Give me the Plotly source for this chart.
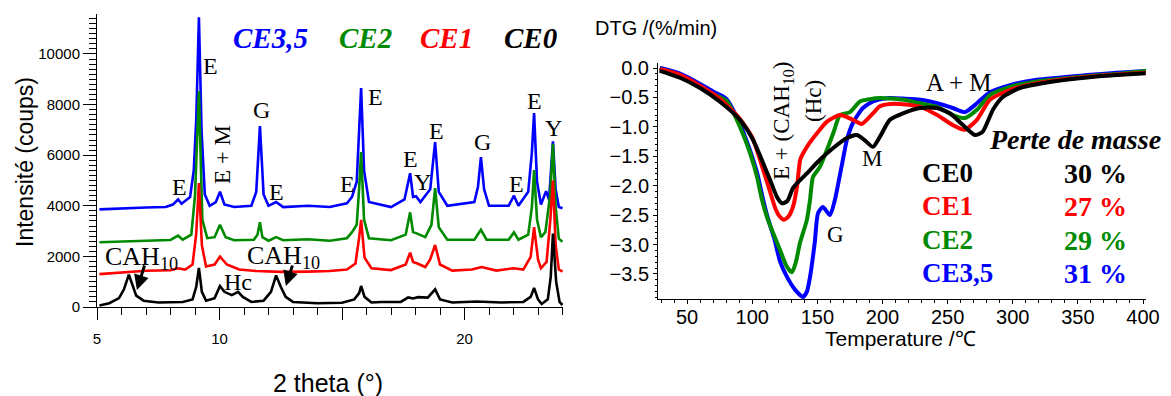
import plotly.graph_objects as go

W, H = 1171, 396

# ---------------- XRD (left) : 2theta (deg) / intensity (counts) ----------------
ce0_2theta = [5.1, 5.5, 5.9, 6.1, 6.3, 6.45, 6.6, 6.9, 7.5, 8.5, 8.9, 9.05, 9.16, 9.28, 9.45, 9.8,
              10.02, 10.2, 10.5, 10.76, 10.95, 11.3, 11.8, 12.1, 12.31, 12.5, 12.7, 13.0, 14.0,
              15.0, 15.5, 15.7, 15.78, 15.92, 16.2, 16.6, 17.4, 17.7, 17.9, 18.1, 18.5, 18.8,
              19.0, 19.5, 20.5, 21.5, 22.4, 22.7, 22.84, 23.0, 23.15, 23.4, 23.52, 23.61, 23.74,
              23.88, 24.0]
ce0_counts = [60, 150, 350, 700, 1280, 900, 450, 250, 180, 200, 300, 800, 1540, 600, 250, 350,
              830, 600, 470, 600, 400, 200, 250, 600, 1250, 800, 400, 200, 150,
              170, 300, 550, 830, 400, 180, 200, 200, 380, 340, 390, 370, 700,
              300, 180, 220, 180, 200, 400, 750, 300, 120, 300, 1200, 2900, 1000,
              200, 80]

ce1_2theta = [5.1, 6.0, 7.0, 8.0, 8.3, 8.6, 8.9, 9.05, 9.16, 9.28, 9.45, 9.8, 10.02, 10.3, 10.8,
              11.5, 12.5, 13.6, 14.5, 15.2, 15.41, 15.55, 15.7, 15.78, 15.92, 16.2, 17.0, 17.6,
              17.78, 17.9, 18.05, 18.4, 18.6, 18.8, 19.0, 19.5, 20.3, 20.7, 21.3, 22.0, 22.4,
              22.7, 22.84, 23.0, 23.12, 23.35, 23.5, 23.61, 23.72, 23.85, 24.0]
ce1_counts = [1300, 1370, 1430, 1450, 1530, 1480, 1680, 2900, 4900, 2450, 1600, 1680, 1990, 1680, 1480,
              1420, 1390, 1400, 1420, 1480, 1620, 1720, 2750, 3440, 1950, 1530, 1460, 1680,
              2150, 1780, 1730, 1580, 1880, 2450, 1680, 1440, 1480, 1580, 1440, 1530, 1480,
              1980, 3160, 1880, 1530, 1780, 3400, 5000, 2450, 1480, 1400]

ce2_2theta = [5.1, 6.0, 7.0, 8.0, 8.31, 8.5, 8.85, 9.0, 9.16, 9.3, 9.5, 9.8, 10.02, 10.25, 10.6,
              11.4, 11.55, 11.65, 11.75, 12.0, 12.31, 12.6, 13.61, 14.5, 15.2, 15.41, 15.6, 15.7,
              15.78, 15.9, 16.1, 17.0, 17.6, 17.78, 17.9, 18.05, 18.4, 18.65, 18.8, 18.95, 19.3,
              20.4, 20.67, 20.9, 21.8, 22.02, 22.2, 22.6, 22.75, 22.84, 22.96, 23.12, 23.3, 23.5,
              23.61, 23.72, 23.85, 24.0]
ce2_counts = [2560, 2600, 2620, 2650, 2820, 2660, 2860, 4400, 8530, 3450, 2720, 2760, 3250, 2760, 2640,
              2660, 2860, 3350, 2760, 2620, 2760, 2640, 2680, 2620, 2720, 2960, 3250, 4700,
              6120, 3450, 2720, 2640, 2860, 3740, 2960, 2910, 2760, 3250, 4700, 3150, 2660,
              2660, 3050, 2660, 2660, 2950, 2660, 2860, 3950, 5410, 3450, 2760, 2960, 4450,
              6450, 3950, 2700, 2580]

ce3_2theta = [5.1, 6.0, 7.0, 7.8, 8.1, 8.31, 8.45, 8.8, 8.95, 9.05, 9.16, 9.27, 9.4, 9.6, 9.85,
              10.02, 10.2, 10.6, 11.3, 11.5, 11.65, 11.8, 12.0, 12.31, 12.6, 13.61, 14.5, 15.2,
              15.41, 15.6, 15.7, 15.78, 15.9, 16.1, 17.0, 17.55, 17.78, 17.9, 18.02, 18.2, 18.6,
              18.8, 18.95, 19.3, 20.4, 20.55, 20.67, 20.8, 21.0, 21.8, 22.02, 22.2, 22.6, 22.75,
              22.84, 22.96, 23.12, 23.33, 23.45, 23.53, 23.61, 23.72, 23.85, 24.0]
ce3_counts = [3860, 3900, 3930, 3950, 4050, 4250, 4080, 4350, 5400, 7400, 11450, 6900, 4450, 4000, 4150,
              4560, 4050, 3950, 4000, 4550, 7150, 4450, 4000, 4150, 3950, 4000, 3950, 4100,
              4350, 4950, 6900, 8650, 5400, 4150, 3950, 4250, 5290, 4350, 4380, 4150, 4650,
              6520, 4550, 4000, 4150, 4750, 5920, 4650, 4000, 4000, 4400, 4000, 4550, 6100,
              7660, 4950, 4050, 4580, 4250, 5400, 6550, 4650, 3950, 3900]

# ---------------- DTG (right) : temperature (C) / DTG (%/min) ----------------
dtg0_T = [29, 35, 45, 60, 75, 90.6, 100.6, 108.3, 113.7, 119, 123, 127, 131.3, 137, 142, 152, 162.2,
          172.7, 180.4, 186, 192.7, 198, 205.7, 215.7, 228.8, 241.8, 251.8, 261.8, 271, 277, 284.8,
          292.5, 305.5, 331, 357, 380, 402]
dtg0 = [-0.05, -0.09, -0.17, -0.34, -0.57, -0.88, -1.22, -1.61, -1.9, -2.19, -2.3, -2.26, -2.04, -1.9,
        -1.79, -1.56, -1.36, -1.19, -1.14, -1.22, -1.34, -1.17, -0.88, -0.77, -0.68, -0.68, -0.77,
        -0.97, -1.14, -1.08, -0.71, -0.49, -0.34, -0.23, -0.16, -0.12, -0.09]

dtg1_T = [29, 35, 45, 60, 75, 90, 100, 108, 113, 118, 121, 124.4, 128, 131.3, 134.4, 137, 142, 149.7,
          157.4, 167.4, 177.4, 184, 192.7, 198, 206, 218, 229, 242, 254, 263, 272.5, 282.5, 298,
          318.6, 357, 380, 402]
dtg1 = [-0.02, -0.05, -0.12, -0.3, -0.52, -0.85, -1.18, -1.7, -2.05, -2.4, -2.52, -2.58, -2.52, -2.36,
        -2.02, -1.55, -1.34, -1.11, -0.91, -0.80, -0.88, -0.95, -0.77, -0.65, -0.61, -0.62, -0.66,
        -0.8, -0.97, -1.05, -0.88, -0.54, -0.37, -0.26, -0.15, -0.11, -0.08]

dtg2_T = [29, 35, 45, 60, 70, 80.4, 90.6, 98.3, 103.7, 107.5, 111.3, 116, 121.3, 126.7, 130.5, 133.5,
          136.7, 142, 144.4, 146.7, 152, 157.4, 162.2, 167.4, 175, 182.7, 190.4, 198, 206, 216, 229,
          242, 254, 263.3, 272.5, 282.5, 298, 318.6, 357, 380, 403]
dtg2 = [-0.02, -0.05, -0.13, -0.31, -0.44, -0.56, -1.0, -1.44, -1.85, -2.24, -2.53, -2.8, -3.09, -3.38,
        -3.47, -3.3, -2.97, -2.58, -2.24, -1.85, -1.68, -1.39, -1.11, -0.80, -0.75, -0.57, -0.53,
        -0.51, -0.52, -0.54, -0.6, -0.66, -0.8, -0.85, -0.71, -0.46, -0.32, -0.23, -0.14, -0.1, -0.05]

dtg3_T = [29, 35, 45, 60, 70, 80, 90, 98, 104, 108, 112, 117, 121.3, 126.7, 133, 139, 142, 144.4, 148,
          150.5, 154.3, 159.7, 163.5, 169.6, 172.7, 177.4, 185, 192.7, 198, 206, 216, 229, 242, 254,
          263.3, 272.5, 282.5, 298, 318.6, 357, 380, 403]
dtg3 = [0.0, -0.03, -0.1, -0.27, -0.4, -0.52, -0.92, -1.38, -1.8, -2.2, -2.55, -2.9, -3.28, -3.55,
        -3.77, -3.89, -3.8, -3.55, -2.97, -2.47, -2.36, -2.5, -2.24, -1.56, -1.22, -0.93, -0.68,
        -0.57, -0.53, -0.51, -0.52, -0.54, -0.6, -0.68, -0.75, -0.6, -0.41, -0.29, -0.2, -0.12,
        -0.08, -0.05]

series_names = ["CE3,5", "CE2", "CE1", "CE0"]
series_colors = ["#0000FF", "#008A00", "#FF0000", "#000000"]
mass_loss = ["31 %", "29 %", "27 %", "30 %"]

x_ticks_xrd = [5, 10, 15, 20]
x_ticktext_xrd = ["5", "10", "", "20"]

fig = go.Figure()

xrd = [(ce3_2theta, ce3_counts), (ce2_2theta, ce2_counts), (ce1_2theta, ce1_counts), (ce0_2theta, ce0_counts)]
for (xs, ys), name, col in zip(xrd, series_names, series_colors):
    fig.add_trace(go.Scatter(x=xs, y=ys, mode="lines", name=name, xaxis="x", yaxis="y",
                             line=dict(color=col, width=2.6), showlegend=False))

dtg = [(dtg3_T, dtg3), (dtg2_T, dtg2), (dtg1_T, dtg1), (dtg0_T, dtg0)]
for (xs, ys), name, col in zip(dtg, series_names, series_colors):
    fig.add_trace(go.Scatter(x=xs, y=ys, mode="lines", name=name, xaxis="x2", yaxis="y2",
                             line=dict(color=col, width=4, shape="spline", smoothing=0.6),
                             showlegend=False))

SANS = "Liberation Sans, Arial, sans-serif"
SERIF = "Liberation Serif, Times New Roman, serif"

fig.update_layout(
    width=W, height=H, margin=dict(l=0, r=0, t=0, b=0, autoexpand=False),
    paper_bgcolor="white", plot_bgcolor="white", showlegend=False,
    xaxis=dict(domain=[97 / W, 563 / W], range=[5, 24.02], tickmode="array", automargin=False,
               tickvals=x_ticks_xrd, ticktext=x_ticktext_xrd, ticks="outside", ticklen=12,
               tickwidth=1, tickcolor="black", showline=True, linecolor="black", linewidth=1,
               showgrid=False, zeroline=False, ticklabelstandoff=6,
               tickfont=dict(family=SANS, size=15, color="black"),
               minor=dict(tickmode="linear", tick0=5, dtick=1, ticks="outside", ticklen=7,
                          tickcolor="black", showgrid=False),
               anchor="y"),
    yaxis=dict(domain=[1 - 307 / H, 1 - 14 / H], range=[0, 11580], tickmode="linear", tick0=0,
               dtick=2000, tickformat="d", ticks="outside", ticklen=13, tickcolor="black",
               showline=True, automargin=False,
               linecolor="black", linewidth=1, showgrid=False, zeroline=False,
               tickfont=dict(family=SANS, size=15, color="black"),
               minor=dict(dtick=200, ticks="outside", ticklen=7, tickcolor="black", showgrid=False),
               anchor="x"),
    xaxis2=dict(domain=[658 / W, 1146 / W], range=[27.7, 402.3], tickmode="linear", tick0=50,
                dtick=50, ticks="outside", ticklen=4, tickcolor="black", showline=True,
                linecolor="black", linewidth=1, showgrid=False, zeroline=False, automargin=False,
                ticklabelstandoff=-4,
                tickfont=dict(family=SANS, size=20, color="black"),
                minor=dict(dtick=10, ticks="outside", ticklen=3, tickcolor="black", showgrid=False),
                anchor="y2"),
    yaxis2=dict(domain=[1 - 299 / H, 1 - 63 / H], range=[-3.925, 0.085], tickmode="linear",
                tick0=0, dtick=0.5, tickformat=".1f", ticks="outside", ticklen=4, tickcolor="black",
                showline=True, linecolor="black", linewidth=1, showgrid=False, zeroline=False,
                automargin=False,
                tickfont=dict(family=SANS, size=20, color="black"),
                minor=dict(dtick=0.1, ticks="outside", ticklen=2, tickcolor="black", showgrid=False),
                anchor="x2"),
)


def ann(text, px, py, size, family=SERIF, color="black", angle=0, xanchor="center", **kw):
    fig.add_annotation(text=text, x=px / W, y=1 - py / H, xref="paper", yref="paper",
                       showarrow=False, xanchor=xanchor, yanchor="middle", textangle=angle,
                       font=dict(family=family, size=size, color=color), **kw)


# axis titles
ann("Intensité (coups)", 25, 162, 23, family=SANS, angle=-90)
ann("2 theta (°)", 328, 383, 25, family=SANS)
ann("DTG /(%/min)", 593, 28, 20, family=SANS, xanchor="left")
ann("Temperature /℃", 900, 338, 21, family=SANS)

# XRD sample labels
for name, col, cx in zip(series_names, series_colors, [270, 365, 446, 530]):
    ann(f"<b><i>{name}</i></b>", cx, 38, 29, color=col)

# XRD peak labels
for t, px, py in [("E", 210, 66), ("G", 261, 110), ("E", 179, 187), ("E", 276, 192),
                  ("E", 347, 184), ("E", 375, 97), ("E", 411, 159), ("Y", 422, 182),
                  ("E", 436, 131), ("G", 482, 142), ("E", 516, 184), ("E", 534, 101),
                  ("Y", 553, 128)]:
    ann(t, px, py, 24)
ann("E + M", 222, 155, 23, angle=-90)
ann("CAH<sub>10</sub>", 141, 258, 26)
ann("CAH<sub>10</sub>", 283, 257, 26)
ann("Hc", 238, 282, 24)

# arrows to CAH10 peaks
for hx, hy, ax, ay in [(6.63, 670, 8, -26), (12.71, 830, 7, -22)]:
    fig.add_annotation(x=hx, y=hy, xref="x", yref="y", ax=ax, ay=ay, text="", showarrow=True,
                       arrowhead=2, arrowsize=1, arrowwidth=3, arrowcolor="black")

# DTG labels
ann("E + (CAH<sub>10</sub>)", 783, 121, 23, angle=-90)
ann("(Hc)", 814, 101, 23, angle=-90)
ann("M", 872, 158, 23)
ann("G", 835, 234, 23)
ann("A + M", 959, 83, 25)
ann("<b><i>Perte de masse</i></b>", 1075, 139, 28)
for name, col, loss, py in zip(series_names[::-1], series_colors[::-1], mass_loss[::-1],
                               [173, 206, 240, 273]):
    ann(f"<b>{name}</b>", 920, py, 27, color=col, xanchor="left")
    ann(f"<b>{loss}</b>", 1062, py, 28, color=col, xanchor="left")

fig.write_html(
    "out.html",
    config={"displayModeBar": False},
    post_script="document.body.style.margin='0';document.body.style.overflow='hidden';",
)
